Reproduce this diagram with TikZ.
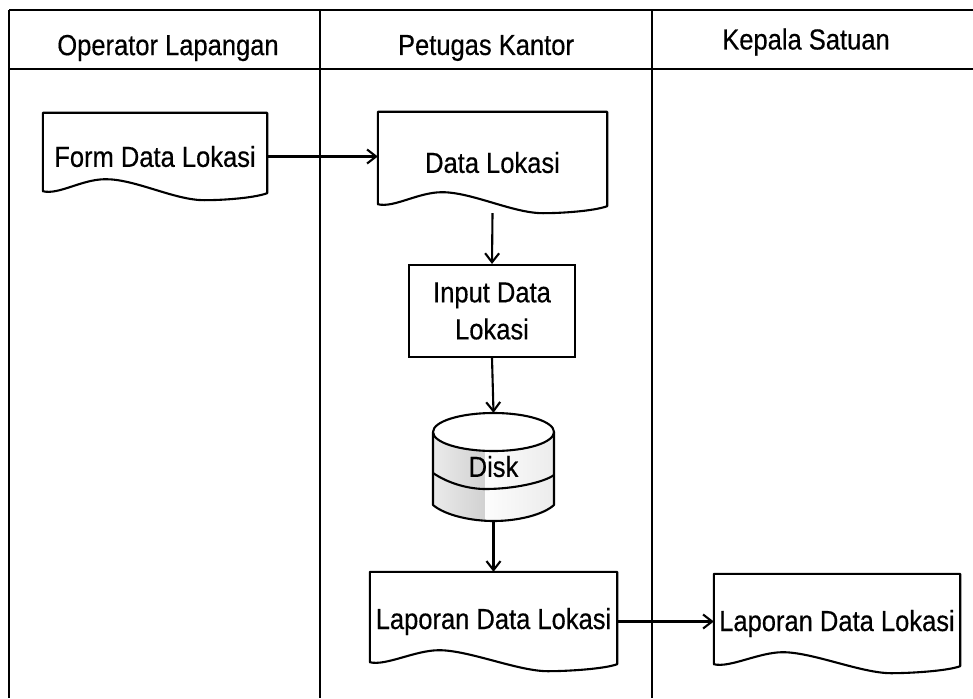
\documentclass[tikz,border=0pt]{standalone}
\usepackage{fontspec}
\setmainfont{Liberation Sans}[FakeStretch=0.88,FakeBold=0.4]
\usetikzlibrary{arrows.meta,calc}

\tikzset{
  lane/.style={line width=2.1pt},
  docline/.style={line width=2.1pt, line join=round},
  docbox/.style={inner sep=0pt, align=center},
  procbox/.style={draw, line width=2.1pt, inner sep=0pt, align=center},
  flow/.style={line width=2.1pt, -{Straight Barb[length=9pt,width=14pt,line width=2.1pt]}},
  heading/.style={inner sep=0pt},
}

% document symbol: flat top, wavy bottom edge ending at the node's south line
\newcommand\docoutline[1]{%
  \draw[docline] ($(#1.south west)+(0pt,9pt)$) -- (#1.north west) -- (#1.north east)
    -- ($(#1.south east)+(0pt,7pt)$)
    .. controls +(-14pt,-5pt) and +(18pt,0pt) .. ($(#1.south west)!0.72!(#1.south east)$)
    .. controls +(-30pt,0pt) and +(30pt,0pt) .. ($(#1.south west)!0.28!(#1.south east)+(0pt,21pt)$)
    .. controls +(-24pt,0pt) and +(16pt,-4pt) .. cycle;}

\begin{document}
\begin{tikzpicture}[x=1pt,y=-1pt,font=\fontsize{29}{37}\selectfont]
\useasboundingbox (0,0) rectangle (973,698);

% swimlane frame
\draw[lane] (9,10) -- (973,10);
\draw[lane] (9,69) -- (973,69);
\draw[lane] (9,10) -- (9,698);
\draw[lane] (320,10) -- (320,698);
\draw[lane] (652,10) -- (652,698);

\node[heading] (h1) at (168,48) {Operator Lapangan};
\node[heading] (h2) at (486,48) {Petugas Kantor};
\node[heading] (h3) at (806,42) {Kepala Satuan};

% documents
\node[docbox, minimum width=224, minimum height=87] (form) at (155,156.5) {Form Data Lokasi};
\docoutline{form}
\node[docbox, minimum width=229, minimum height=101] (data) at (492.5,162.5) {Data Lokasi};
\docoutline{data}

% process
\node[procbox, minimum width=166, minimum height=92] (input) at (492,311) {Input Data\\Lokasi};

% disk storage
\coordinate (diskc) at (493.5,466.5);
\begin{scope}[shift={(diskc)}]
  \begin{scope}
    \clip (-60.5,-34.5) -- (-60.5,38.5) .. controls (-48,49) and (-22,54.5) .. (0,54.5)
      .. controls (25,54.5) and (50,48) .. (60.5,38.5) -- (60.5,-34.5) -- cycle;
    \fill[left color=gray!16, right color=gray!36] (-61,-40) rectangle (-8,60);
    \fill[left color=gray!2, right color=gray!15] (-8,-40) rectangle (61,60);
  \end{scope}
  \draw[docline] (-60.5,-34.5) -- (-60.5,38.5) .. controls (-48,49) and (-22,54.5) .. (0,54.5)
      .. controls (25,54.5) and (50,48) .. (60.5,38.5) -- (60.5,-34.5);
  \draw[docline] (-60.5,6.5) .. controls (-45,17) and (-25,22.5) .. (-8,22.5)
      .. controls (20,22.5) and (50,16) .. (60.5,8.5);
  \draw[docline, fill=white] (0,-34.5) ellipse [x radius=60.5pt, y radius=19pt];
\end{scope}
\node[docbox, minimum width=121, minimum height=107] (disk) at (diskc) {Disk};

% reports
\node[docbox, minimum width=247, minimum height=99] (lapmid) at (493.5,621.5) {Laporan Data Lokasi};
\docoutline{lapmid}
\node[docbox, minimum width=246, minimum height=99] (lapright) at (837,623.5) {Laporan Data Lokasi};
\docoutline{lapright}

% flows
\draw[flow] (form.east) -- (form.east -| data.west);
\draw[flow] (data.south) -- (input.north);
\draw[flow] (input.south) -- (disk.north);
\draw[flow] (disk.south) -- (lapmid.north);
\draw[flow] (lapmid.east) -- (lapmid.east -| lapright.west);
\end{tikzpicture}
\end{document}
